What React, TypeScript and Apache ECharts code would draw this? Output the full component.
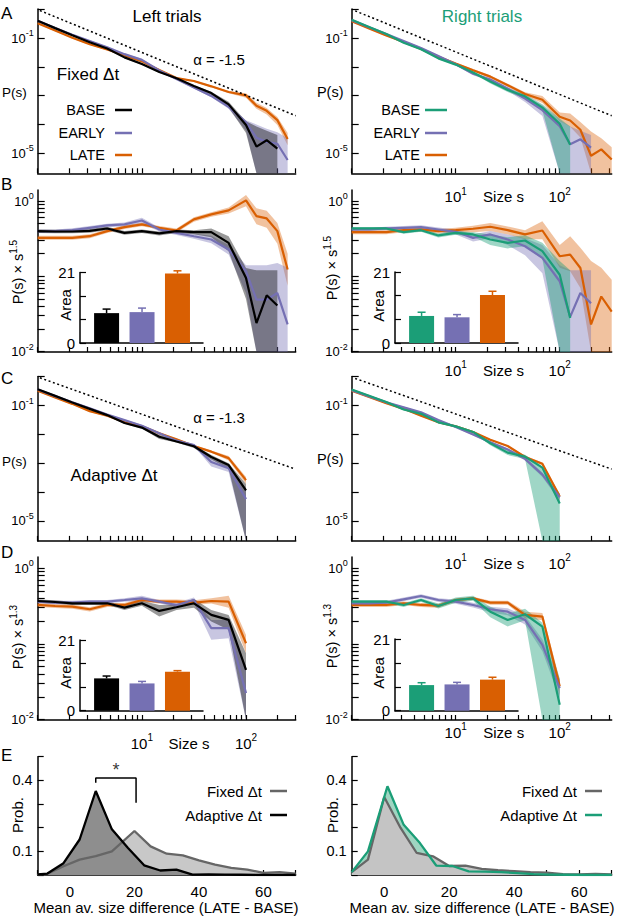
import React, { useEffect, useRef } from "react";
import * as echarts from "echarts";

const FONT = '"Liberation Sans", Arial, Helvetica, sans-serif';
const BLACK = "#000000";
const PURPLE = "#7570b3";
const ORANGE = "#d95f02";
const GREEN = "#1b9e77";
const BAND_BLACK = "rgba(0,0,0,0.40)";
const BAND_PURPLE = "rgba(117,112,179,0.40)";
const BAND_ORANGE = "rgba(217,95,2,0.38)";
const BAND_GREEN = "rgba(27,158,119,0.42)";

// ---------- size bins (avalanche size s) ----------
const sizeBinsLeft = [1, 1.47, 2.15, 3.16, 4.64, 6.81, 10, 14.7, 21.5, 31.6, 46.4, 68.1, 100, 126, 158, 200, 251];
const sizeBinsRight = [1, 1.47, 2.15, 3.16, 4.64, 6.81, 10, 14.7, 21.5, 31.6, 46.4, 68.1, 100, 126, 158, 200, 251, 316];
const sizeTicks = [1, 2, 3, 4, 5, 6, 7, 8, 9, 10, 20, 30, 40, 50, 60, 70, 80, 90, 100, 200, 300];
const sizeLabels = [10, 100];
const probTicks = [1, 0.1, 0.01, 0.001, 0.0001, 0.00001];
const probLabels = [0.1, 0.00001];
const compTicks = [1, 0.9, 0.8, 0.7, 0.6, 0.5, 0.4, 0.3, 0.2, 0.1, 0.09, 0.08, 0.07, 0.06, 0.05, 0.04, 0.03, 0.02, 0.01];
const compLabels = [1, 0.01];

const ALPHA_FIXED = 1.5;
const ALPHA_ADAPTIVE = 1.3;

// ---------- Fixed Δt, left trials: P(s)·s^1.5 (mean, lower, upper) ----------
const fixedLeftBase = [0.398, 0.394, 0.394, 0.402, 0.432, 0.378, 0.398, 0.371, 0.398, 0.386, 0.386, 0.278, 0.095, 0.024, 0.056, 0.041];
const fixedLeftBaseLo = [0.376, 0.373, 0.373, 0.38, 0.41, 0.356, 0.376, 0.348, 0.376, 0.362, 0.33, 0.215, 0.05, 0, 0, 0];
const fixedLeftBaseHi = [0.42, 0.415, 0.415, 0.425, 0.455, 0.4, 0.42, 0.395, 0.42, 0.41, 0.432, 0.341, 0.129, 0.12, 0.12, 0.12];
const fixedLeftEarly = [0.398, 0.398, 0.41, 0.441, 0.474, 0.489, 0.552, 0.419, 0.378, 0.341, 0.308, 0.227, 0.117, 0.049, 0.049, 0.06, 0.023];
const fixedLeftEarlyLo = [0.378, 0.378, 0.387, 0.418, 0.45, 0.46, 0.505, 0.395, 0.355, 0.315, 0.275, 0.195, 0.06, 0, 0, 0, 0];
const fixedLeftEarlyHi = [0.42, 0.42, 0.435, 0.465, 0.5, 0.52, 0.6, 0.445, 0.4, 0.37, 0.345, 0.26, 0.14, 0.14, 0.14, 0.15, 0.13];
const fixedLeftLate = [0.324, 0.324, 0.324, 0.341, 0.398, 0.45, 0.489, 0.441, 0.406, 0.57, 0.664, 0.751, 1.02, 0.631, 0.587, 0.398, 0.123];
const fixedLeftLateLo = [0.305, 0.305, 0.305, 0.32, 0.376, 0.425, 0.463, 0.417, 0.382, 0.53, 0.62, 0.685, 0.85, 0.49, 0.44, 0.27, 0.075];
const fixedLeftLateHi = [0.345, 0.345, 0.345, 0.362, 0.42, 0.475, 0.515, 0.465, 0.43, 0.61, 0.71, 0.82, 1.2, 0.8, 0.74, 0.51, 0.2];

// ---------- Fixed Δt, right trials ----------
const fixedRightBase = [0.432, 0.432, 0.432, 0.386, 0.41, 0.349, 0.378, 0.36, 0.308, 0.278, 0.299, 0.216, 0.105, 0.028];
const fixedRightBaseLo = [0.414, 0.414, 0.414, 0.367, 0.39, 0.328, 0.356, 0.335, 0.26, 0.235, 0.25, 0.17, 0, 0];
const fixedRightBaseHi = [0.45, 0.45, 0.45, 0.405, 0.43, 0.37, 0.4, 0.385, 0.36, 0.33, 0.35, 0.28, 0.16, 0.12];
const fixedRightEarly = [0.419, 0.419, 0.432, 0.441, 0.45, 0.419, 0.39, 0.324, 0.36, 0.308, 0.251, 0.176, 0.086, 0.029, 0.06, 0.044];
const fixedRightEarlyLo = [0.4, 0.4, 0.41, 0.418, 0.425, 0.395, 0.36, 0.29, 0.32, 0.26, 0.19, 0.11, 0, 0, 0, 0];
const fixedRightEarlyHi = [0.44, 0.44, 0.455, 0.465, 0.475, 0.445, 0.42, 0.36, 0.4, 0.36, 0.32, 0.26, 0.14, 0.12, 0.12, 0.12];
const fixedRightLate = [0.386, 0.386, 0.386, 0.41, 0.419, 0.398, 0.41, 0.428, 0.455, 0.41, 0.36, 0.406, 0.185, 0.194, 0.129, 0.023, 0.054, 0.034];
const fixedRightLateLo = [0.362, 0.362, 0.362, 0.385, 0.393, 0.371, 0.38, 0.386, 0.4, 0.36, 0.31, 0.31, 0.13, 0.117, 0.07, 0, 0, 0];
const fixedRightLateHi = [0.41, 0.41, 0.41, 0.435, 0.445, 0.425, 0.44, 0.47, 0.51, 0.46, 0.41, 0.54, 0.26, 0.34, 0.24, 0.16, 0.13, 0.09];

// ---------- Adaptive Δt, left trials: P(s)·s^1.3 ----------
const adaptiveLeftBase = [0.368, 0.357, 0.343, 0.343, 0.343, 0.301, 0.343, 0.272, 0.304, 0.343, 0.241, 0.207, 0.0455];
const adaptiveLeftBaseLo = [0.35, 0.34, 0.326, 0.326, 0.326, 0.28, 0.318, 0.229, 0.28, 0.3, 0.197, 0.153, 0];
const adaptiveLeftBaseHi = [0.385, 0.375, 0.36, 0.36, 0.36, 0.325, 0.37, 0.326, 0.33, 0.39, 0.28, 0.24, 0.075];
const adaptiveLeftEarly = [0.361, 0.35, 0.35, 0.361, 0.361, 0.379, 0.399, 0.361, 0.326, 0.379, 0.161, 0.161, 0.0224];
const adaptiveLeftEarlyLo = [0.343, 0.333, 0.333, 0.343, 0.343, 0.36, 0.37, 0.343, 0.303, 0.35, 0.113, 0.119, 0];
const adaptiveLeftEarlyHi = [0.38, 0.37, 0.37, 0.38, 0.38, 0.4, 0.43, 0.38, 0.35, 0.41, 0.207, 0.207, 0.05];
const adaptiveLeftLate = [0.326, 0.316, 0.31, 0.286, 0.326, 0.326, 0.379, 0.361, 0.361, 0.35, 0.368, 0.361, 0.102];
const adaptiveLeftLateLo = [0.307, 0.297, 0.29, 0.267, 0.307, 0.307, 0.358, 0.34, 0.34, 0.326, 0.34, 0.3, 0.075];
const adaptiveLeftLateHi = [0.345, 0.335, 0.33, 0.305, 0.345, 0.345, 0.4, 0.385, 0.385, 0.375, 0.4, 0.43, 0.131];

// ---------- Adaptive Δt, right trials ----------
const adaptiveRightBase = [0.361, 0.361, 0.361, 0.326, 0.379, 0.316, 0.379, 0.399, 0.266, 0.207, 0.246, 0.169, 0.0157];
const adaptiveRightBaseLo = [0.343, 0.343, 0.343, 0.307, 0.36, 0.293, 0.35, 0.37, 0.225, 0.17, 0.205, 0, 0];
const adaptiveRightBaseHi = [0.38, 0.38, 0.38, 0.345, 0.4, 0.34, 0.41, 0.43, 0.31, 0.25, 0.29, 0.19, 0.035];
const adaptiveRightEarly = [0.343, 0.343, 0.35, 0.387, 0.428, 0.379, 0.361, 0.326, 0.286, 0.266, 0.207, 0.097, 0.0261];
const adaptiveRightEarlyLo = [0.326, 0.326, 0.33, 0.365, 0.405, 0.358, 0.338, 0.302, 0.262, 0.238, 0.18, 0.08, 0.019];
const adaptiveRightEarlyHi = [0.36, 0.36, 0.37, 0.41, 0.45, 0.4, 0.385, 0.35, 0.31, 0.295, 0.235, 0.115, 0.034];
const adaptiveRightLate = [0.326, 0.326, 0.326, 0.343, 0.326, 0.319, 0.379, 0.399, 0.35, 0.35, 0.241, 0.229, 0.0275];
const adaptiveRightLateLo = [0.307, 0.307, 0.307, 0.325, 0.307, 0.3, 0.358, 0.378, 0.328, 0.328, 0.218, 0.205, 0.021];
const adaptiveRightLateHi = [0.345, 0.345, 0.345, 0.362, 0.345, 0.338, 0.4, 0.42, 0.372, 0.372, 0.265, 0.255, 0.034];

// ---------- power-law guides [s, P] ----------
const guideFixedLeft = [[1.05, 0.9], [300, 0.0002]];
const guideFixedRight = [[1.08, 0.88], [316, 0.0002]];
const guideAdaptiveLeft = [[1.05, 0.92], [287, 0.00065]];
const guideAdaptiveRight = [[1.08, 0.875], [316, 0.00062]];

// ---------- inset areas (BASE, EARLY, LATE) ----------
const areaFixedLeft = [8.9, 9.2, 20.7];
const areaFixedLeftErr = [1.2, 1.2, 0.8];
const areaFixedRight = [8.0, 7.6, 14.2];
const areaFixedRightErr = [1.1, 0.8, 1.1];
const areaAdaptiveLeft = [9.6, 8.1, 11.6];
const areaAdaptiveLeftErr = [0.7, 0.6, 0.3];
const areaAdaptiveRight = [7.5, 7.7, 9.1];
const areaAdaptiveRightErr = [0.7, 0.6, 0.7];

// ---------- E: distributions of mean avalanche size difference ----------
const diffLeftFixedX = [-10, -7, -2, 3, 8, 13, 20, 25, 30, 35, 40, 45, 50, 55, 60, 65, 70];
const diffLeftFixedY = [0.003, 0.005, 0.037, 0.065, 0.08, 0.1, 0.186, 0.121, 0.09, 0.083, 0.062, 0.044, 0.03, 0.023, 0.009, 0.012, 0.006];
const diffLeftAdaptX = [-10, -7, -2, 3, 8, 13, 18, 23, 28, 33, 38, 43, 48, 53, 58, 63, 70];
const diffLeftAdaptY = [0.003, 0.006, 0.05, 0.15, 0.355, 0.193, 0.114, 0.041, 0.019, 0.023, 0.002, 0.003, 0.002, 0.001, 0, 0, 0];
const diffRightFixedX = [-10, -5, 0, 5, 10, 15, 20, 25, 30, 35, 40, 45, 50, 55, 60, 65, 70];
const diffRightFixedY = [0.012, 0.065, 0.33, 0.2, 0.093, 0.079, 0.038, 0.04, 0.026, 0.02, 0.016, 0.012, 0.01, 0.004, 0.003, 0.005, 0.003];
const diffRightAdaptX = [-10, -5, 1, 6, 11, 16, 21, 26, 31, 36, 41, 46, 51, 56, 61, 66, 70];
const diffRightAdaptY = [0.012, 0.1, 0.375, 0.212, 0.135, 0.04, 0.038, 0.015, 0.014, 0.012, 0.008, 0.004, 0.002, 0.001, 0, 0, 0];
const bracketX = [8, 8, 20.5, 20.5];
const bracketY = [0.39, 0.41, 0.41, 0.305];
const starPoint = [14.3, 0.445];

// ---------- helpers ----------
const supRich = (fs: number) => ({
  b: { fontSize: fs, fontFamily: FONT, color: "#000", lineHeight: fs + 6 },
  s: { fontSize: Math.round(fs * 0.68), fontFamily: FONT, color: "#000", lineHeight: Math.round(fs * 0.68), verticalAlign: "top" },
});
const expLabel = (v: number) => `{b|10}{s|${Math.round(Math.log10(v))}}`;
const AXIS_LINE = { show: true, onZero: false, lineStyle: { color: "#000", width: 1.5 } };

function txt(x: number, y: number, text: string, o: any = {}) {
  return {
    type: "text",
    x,
    y,
    rotation: o.rot || 0,
    silent: true,
    z: 100,
    style: {
      text,
      fill: o.fill || "#000",
      font: `${o.size || 15}px ${FONT}`,
      align: o.align || "center",
      verticalAlign: "middle",
      rich: o.rich,
    },
  };
}
function seg(x1: number, y1: number, x2: number, y2: number, color: string) {
  return { type: "line", silent: true, z: 100, shape: { x1, y1, x2, y2 }, style: { stroke: color, lineWidth: 2.5 } };
}

function buildOption() {
  const grid: any[] = [];
  const xAxis: any[] = [];
  const yAxis: any[] = [];
  const series: any[] = [];

  const addGrid = (left: number, top: number, width: number, height: number) => {
    grid.push({ left, top, width, height, containLabel: false, outerBoundsMode: "none", show: false });
    return grid.length - 1;
  };

  type Curve = { v: number[]; lo: number[]; hi: number[]; color: string; band: string };

  const sizePanel = (
    box: number[],
    side: "L" | "R",
    raw: boolean,
    alpha: number,
    curves: Curve[],
    guide: number[][] | null,
    labelMargin: number | null
  ) => {
    const gi = addGrid(box[0], box[1], box[2], box[3]);
    const bins = side === "L" ? sizeBinsLeft : sizeBinsRight;
    const xMax = side === "L" ? 300 : 316;
    const yMin = raw ? 2e-6 : 0.0099;
    const yMax = raw ? 1.02 : 1.4;
    xAxis.push({
      type: "log",
      logBase: 10,
      gridIndex: gi,
      min: 1,
      max: xMax,
      axisLine: AXIS_LINE,
      axisTick: { show: true, inside: true, length: 5, customValues: sizeTicks, lineStyle: { color: "#000", width: 1.2 } },
      axisLabel:
        labelMargin === null
          ? { show: false }
          : { show: true, customValues: sizeLabels, formatter: expLabel, rich: supRich(15), margin: labelMargin },
      splitLine: { show: false },
      minorTick: { show: false },
    });
    yAxis.push({
      type: "log",
      logBase: 10,
      gridIndex: gi,
      min: yMin,
      max: yMax,
      axisLine: AXIS_LINE,
      axisTick: { show: true, inside: true, length: 7, customValues: raw ? probTicks : compTicks, lineStyle: { color: "#000", width: 1.2 } },
      axisLabel: { show: true, customValues: raw ? probLabels : compLabels, formatter: expLabel, rich: supRich(13), margin: 4 },
      splitLine: { show: false },
      minorTick: { show: false },
    });
    const scaled = curves.map((c) => {
      const xs = bins.slice(0, c.v.length);
      const f = (i: number) => (raw ? Math.pow(xs[i], -alpha) : 1);
      return {
        xs,
        v: c.v.map((y, i) => y * f(i)),
        lo: c.lo.map((y, i) => y * f(i)),
        hi: c.hi.map((y, i) => y * f(i)),
        color: c.color,
        band: c.band,
      };
    });
    scaled.forEach((c) => {
      series.push({
        type: "custom",
        coordinateSystem: "cartesian2d",
        xAxisIndex: gi,
        yAxisIndex: gi,
        silent: true,
        data: c.xs.map((x, i) => [x, c.hi[i]]),
        encode: { x: 0, y: 1 },
        renderItem: (params: any, api: any) => {
          if (params.dataIndex !== 0) return null;
          const cs = params.coordSys;
          const cy = (y: number) => Math.min(cs.y + cs.height, Math.max(cs.y, y));
          const up = c.xs.map((x, i) => {
            const p = api.coord([x, c.hi[i]]);
            return [p[0], cy(p[1])];
          });
          const dn = c.xs
            .map((x, i) => {
              const p = api.coord([x, Math.max(c.lo[i], yMin)]);
              return [p[0], cy(p[1])];
            })
            .reverse();
          return { type: "polygon", shape: { points: up.concat(dn) }, style: { fill: c.band } };
        },
      });
    });
    scaled.forEach((c) => {
      series.push({
        type: "line",
        xAxisIndex: gi,
        yAxisIndex: gi,
        silent: true,
        showSymbol: false,
        symbol: "none",
        data: c.xs.map((x, i) => [x, c.v[i]]),
        lineStyle: { color: c.color, width: 2.2 },
        itemStyle: { color: c.color },
      });
    });
    if (guide) {
      series.push({
        type: "line",
        xAxisIndex: gi,
        yAxisIndex: gi,
        silent: true,
        showSymbol: false,
        symbol: "none",
        data: guide,
        lineStyle: { color: "#000", width: 1.5, type: [2, 2.6] },
      });
    }
  };

  const insetPanel = (box: number[], vals: number[], errs: number[], colors: string[]) => {
    const gi = addGrid(box[0], box[1], box[2], box[3]);
    xAxis.push({
      type: "value",
      gridIndex: gi,
      min: -0.75,
      max: 2.72,
      axisLine: AXIS_LINE,
      axisTick: { show: false },
      axisLabel: { show: false },
      splitLine: { show: false },
    });
    yAxis.push({
      type: "value",
      gridIndex: gi,
      min: 0,
      max: 21,
      interval: 7,
      axisLine: AXIS_LINE,
      axisTick: { show: true, inside: true, length: 6, lineStyle: { color: "#000", width: 1.2 } },
      axisLabel: {
        show: true,
        margin: 5,
        color: "#000",
        fontSize: 15,
        fontFamily: FONT,
        formatter: (v: number) => (v === 0 || v === 21 ? String(v) : ""),
      },
      splitLine: { show: false },
    });
    series.push({
      type: "bar",
      xAxisIndex: gi,
      yAxisIndex: gi,
      silent: true,
      barWidth: 25,
      data: vals.map((v, i) => ({ value: [i, v], itemStyle: { color: colors[i] } })),
    });
    series.push({
      type: "custom",
      coordinateSystem: "cartesian2d",
      xAxisIndex: gi,
      yAxisIndex: gi,
      silent: true,
      z: 3,
      data: vals.map((v, i) => [i, v, v + errs[i]]),
      encode: { x: 0, y: [1, 2] },
      renderItem: (params: any, api: any) => {
        const a = api.coord([api.value(0), api.value(1)]);
        const b = api.coord([api.value(0), api.value(2)]);
        const col = colors[params.dataIndex];
        return {
          type: "group",
          children: [
            { type: "line", shape: { x1: a[0], y1: a[1], x2: b[0], y2: b[1] }, style: { stroke: col, lineWidth: 1.5 } },
            { type: "line", shape: { x1: b[0] - 4, y1: b[1], x2: b[0] + 4, y2: b[1] }, style: { stroke: col, lineWidth: 1.5 } },
          ],
        };
      },
    });
  };

  const diffPanel = (box: number[], layers: any[]) => {
    const gi = addGrid(box[0], box[1], box[2], box[3]);
    xAxis.push({
      type: "value",
      gridIndex: gi,
      min: -10,
      max: 70,
      interval: 10,
      axisLine: AXIS_LINE,
      axisTick: { show: true, inside: true, length: 5, lineStyle: { color: "#000", width: 1.2 } },
      axisLabel: {
        show: true,
        margin: 9,
        color: "#000",
        fontSize: 15,
        fontFamily: FONT,
        formatter: (v: number) => ([0, 20, 40, 60].indexOf(v) >= 0 ? String(v) : ""),
      },
      splitLine: { show: false },
    });
    yAxis.push({
      type: "value",
      gridIndex: gi,
      min: 0,
      max: 0.5,
      interval: 0.1,
      axisLine: AXIS_LINE,
      axisTick: { show: true, inside: true, length: 6, lineStyle: { color: "#000", width: 1.2 } },
      axisLabel: {
        show: true,
        margin: 5,
        color: "#000",
        fontSize: 14.5,
        fontFamily: FONT,
        formatter: (v: number) => (Math.abs(v - 0.1) < 1e-6 || Math.abs(v - 0.4) < 1e-6 ? String(v) : ""),
      },
      splitLine: { show: false },
    });
    layers.forEach((L) => {
      const base: any = {
        type: "line",
        xAxisIndex: gi,
        yAxisIndex: gi,
        silent: true,
        showSymbol: false,
        symbol: "none",
        data: L.x.map((x: number, i: number) => [x, L.y[i]]),
      };
      if (L.fill) {
        base.lineStyle = { width: 0, opacity: 0 };
        base.areaStyle = { color: L.fill, opacity: 1 };
      } else {
        base.lineStyle = { color: L.color, width: L.width || 2.3 };
      }
      series.push(base);
    });
    return gi;
  };

  // ---------- panels A-D ----------
  const fixedLeftCurves: Curve[] = [
    { v: fixedLeftLate, lo: fixedLeftLateLo, hi: fixedLeftLateHi, color: ORANGE, band: BAND_ORANGE },
    { v: fixedLeftEarly, lo: fixedLeftEarlyLo, hi: fixedLeftEarlyHi, color: PURPLE, band: BAND_PURPLE },
    { v: fixedLeftBase, lo: fixedLeftBaseLo, hi: fixedLeftBaseHi, color: BLACK, band: BAND_BLACK },
  ];
  const fixedRightCurves: Curve[] = [
    { v: fixedRightLate, lo: fixedRightLateLo, hi: fixedRightLateHi, color: ORANGE, band: BAND_ORANGE },
    { v: fixedRightEarly, lo: fixedRightEarlyLo, hi: fixedRightEarlyHi, color: PURPLE, band: BAND_PURPLE },
    { v: fixedRightBase, lo: fixedRightBaseLo, hi: fixedRightBaseHi, color: GREEN, band: BAND_GREEN },
  ];
  const adaptiveLeftCurves: Curve[] = [
    { v: adaptiveLeftLate, lo: adaptiveLeftLateLo, hi: adaptiveLeftLateHi, color: ORANGE, band: BAND_ORANGE },
    { v: adaptiveLeftEarly, lo: adaptiveLeftEarlyLo, hi: adaptiveLeftEarlyHi, color: PURPLE, band: BAND_PURPLE },
    { v: adaptiveLeftBase, lo: adaptiveLeftBaseLo, hi: adaptiveLeftBaseHi, color: BLACK, band: BAND_BLACK },
  ];
  const adaptiveRightCurves: Curve[] = [
    { v: adaptiveRightLate, lo: adaptiveRightLateLo, hi: adaptiveRightLateHi, color: ORANGE, band: BAND_ORANGE },
    { v: adaptiveRightEarly, lo: adaptiveRightEarlyLo, hi: adaptiveRightEarlyHi, color: PURPLE, band: BAND_PURPLE },
    { v: adaptiveRightBase, lo: adaptiveRightBaseLo, hi: adaptiveRightBaseHi, color: GREEN, band: BAND_GREEN },
  ];

  sizePanel([37.7, 9, 258, 164.3], "L", true, ALPHA_FIXED, fixedLeftCurves, guideFixedLeft, null);
  sizePanel([351.7, 9, 260, 164.3], "R", true, ALPHA_FIXED, fixedRightCurves, guideFixedRight, 12.9);
  sizePanel([37.7, 190, 258, 162], "L", false, ALPHA_FIXED, fixedLeftCurves, null, null);
  sizePanel([351.7, 190, 260, 162], "R", false, ALPHA_FIXED, fixedRightCurves, null, 7.5);
  sizePanel([37.7, 376.5, 258, 164.4], "L", true, ALPHA_ADAPTIVE, adaptiveLeftCurves, guideAdaptiveLeft, null);
  sizePanel([351.7, 376.5, 260, 164.4], "R", true, ALPHA_ADAPTIVE, adaptiveRightCurves, guideAdaptiveRight, 11.6);
  sizePanel([37.7, 557, 258, 163], "L", false, ALPHA_ADAPTIVE, adaptiveLeftCurves, null, 12.5);
  sizePanel([351.7, 557, 260, 163], "R", false, ALPHA_ADAPTIVE, adaptiveRightCurves, null, 1.5);

  // ---------- insets ----------
  insetPanel([80, 272.5, 123, 70.5], areaFixedLeft, areaFixedLeftErr, [BLACK, PURPLE, ORANGE]);
  insetPanel([395, 272, 123, 71], areaFixedRight, areaFixedRightErr, [GREEN, PURPLE, ORANGE]);
  insetPanel([80, 640, 123, 70.7], areaAdaptiveLeft, areaAdaptiveLeftErr, [BLACK, PURPLE, ORANGE]);
  insetPanel([395, 639, 123, 71.7], areaAdaptiveRight, areaAdaptiveRightErr, [GREEN, PURPLE, ORANGE]);

  // ---------- E ----------
  const gEL = diffPanel([37.7, 756.7, 258, 118.3], [
    { x: diffLeftFixedX, y: diffLeftFixedY, fill: "#c8c8c8" },
    { x: diffLeftAdaptX, y: diffLeftAdaptY, fill: "#8e8e8e" },
    { x: diffLeftFixedX, y: diffLeftFixedY, color: "#666666" },
    { x: diffLeftAdaptX, y: diffLeftAdaptY, color: "#000000" },
    { x: bracketX, y: bracketY, color: "#000000", width: 1.5 },
  ]);
  series.push({
    type: "scatter",
    xAxisIndex: gEL,
    yAxisIndex: gEL,
    silent: true,
    symbolSize: 0,
    data: [starPoint],
    label: { show: true, formatter: "*", position: "inside", color: "#000", fontSize: 18, fontFamily: FONT },
  });
  diffPanel([351.7, 756.7, 260, 118.3], [
    { x: diffRightAdaptX, y: diffRightAdaptY, fill: "#9fd5c1" },
    { x: diffRightFixedX, y: diffRightFixedY, fill: "#c4c4c4" },
    { x: diffRightFixedX, y: diffRightFixedY, color: "#666666" },
    { x: diffRightAdaptX, y: diffRightAdaptY, color: GREEN },
  ]);

  // ---------- texts ----------
  const yRich = {
    b: { fontSize: 14.5, fontFamily: FONT, color: "#000", lineHeight: 20 },
    s: { fontSize: 10, fontFamily: FONT, color: "#000", lineHeight: 10, verticalAlign: "top" },
  };
  const R90 = Math.PI / 2;
  const graphic: any[] = [
    txt(1, 13, "A", { size: 17, align: "left" }),
    txt(1, 184, "B", { size: 17, align: "left" }),
    txt(1, 378, "C", { size: 17, align: "left" }),
    txt(1, 552, "D", { size: 17, align: "left" }),
    txt(1, 755, "E", { size: 17, align: "left" }),
    txt(167, 16, "Left trials", { size: 17 }),
    txt(482, 16, "Right trials", { size: 17, fill: GREEN }),
    txt(88, 74, "Fixed Δt", { size: 17 }),
    txt(114, 475, "Adaptive Δt", { size: 17 }),
    txt(219, 59, "α = -1.5", { size: 15 }),
    txt(219, 417, "α = -1.3", { size: 15 }),
    txt(2, 92, "P(s)", { size: 13.5, align: "left" }),
    txt(343.5, 92, "P(s)", { size: 14.5, align: "right" }),
    txt(2, 461.5, "P(s)", { size: 13.5, align: "left" }),
    txt(343.5, 458.5, "P(s)", { size: 14.5, align: "right" }),
    txt(18, 272, "{b|P(s) × s}{s|1.5}", { rich: yRich, rot: R90 }),
    txt(332, 268, "{b|P(s) × s}{s|1.5}", { rich: yRich, rot: R90 }),
    txt(18, 637, "{b|P(s) × s}{s|1.3}", { rich: yRich, rot: R90 }),
    txt(332, 636, "{b|P(s) × s}{s|1.3}", { rich: yRich, rot: R90 }),
    txt(65, 305, "Area", { size: 15, rot: R90 }),
    txt(378, 306, "Area", { size: 15, rot: R90 }),
    txt(65, 673, "Area", { size: 15, rot: R90 }),
    txt(378, 673, "Area", { size: 15, rot: R90 }),
    txt(17, 815, "Prob.", { size: 15, rot: R90 }),
    txt(332, 815, "Prob.", { size: 15, rot: R90 }),
    txt(503.5, 196.7, "Size s", { size: 15 }),
    txt(503.5, 370, "Size s", { size: 15 }),
    txt(503.7, 563, "Size s", { size: 15 }),
    txt(189, 743, "Size s", { size: 15 }),
    txt(503.7, 732, "Size s", { size: 15 }),
    txt(166, 907, "Mean av. size difference (LATE - BASE)", { size: 15 }),
    txt(482, 907, "Mean av. size difference (LATE - BASE)", { size: 15 }),
    // legends A
    txt(105, 110, "BASE", { size: 14.5, align: "right" }),
    txt(105, 133, "EARLY", { size: 14.5, align: "right" }),
    txt(105, 155, "LATE", { size: 14.5, align: "right" }),
    seg(115, 110, 132, 110, BLACK),
    seg(115, 133, 132, 133, PURPLE),
    seg(115, 155, 132, 155, ORANGE),
    txt(420, 110, "BASE", { size: 14.5, align: "right" }),
    txt(420, 133, "EARLY", { size: 14.5, align: "right" }),
    txt(420, 155, "LATE", { size: 14.5, align: "right" }),
    seg(425, 110, 447, 110, GREEN),
    seg(425, 133, 447, 133, PURPLE),
    seg(425, 155, 447, 155, ORANGE),
    // legends E
    txt(262, 791, "Fixed Δt", { size: 15, align: "right" }),
    txt(262, 815, "Adaptive Δt", { size: 15, align: "right" }),
    seg(270, 791, 287, 791, "#666666"),
    seg(270, 815, 287, 815, "#000000"),
    txt(577, 791, "Fixed Δt", { size: 15, align: "right" }),
    txt(577, 815, "Adaptive Δt", { size: 15, align: "right" }),
    seg(585, 791, 602, 791, "#666666"),
    seg(585, 815, 602, 815, GREEN),
  ];

  return {
    animation: false,
    backgroundColor: "#ffffff",
    textStyle: { fontFamily: FONT, color: "#000" },
    grid,
    xAxis,
    yAxis,
    series,
    graphic,
  };
}

export default function App() {
  const ref = useRef<HTMLDivElement>(null);
  useEffect(() => {
    if (!ref.current) return;
    const chart = echarts.init(ref.current, null, { renderer: "svg" });
    chart.setOption(buildOption() as any);
    return () => chart.dispose();
  }, []);
  return (
    <div
      ref={ref}
      style={{ position: "fixed", left: 0, top: 0, width: 617, height: 917, background: "#fff" }}
    />
  );
}
